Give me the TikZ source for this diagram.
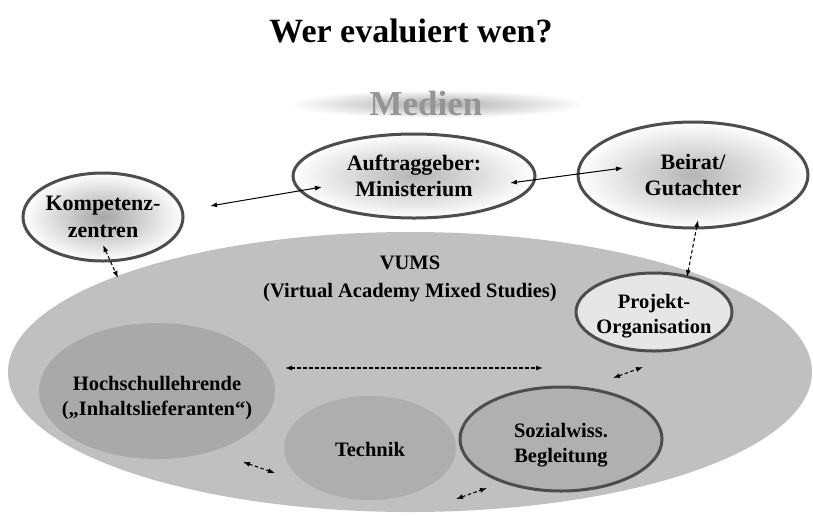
\documentclass[tikz,border=0pt]{standalone}
\usepackage{fontspec}
\setmainfont{Liberation Serif}
\usetikzlibrary{arrows.meta,shapes.geometric}
\definecolor{bigfill}{HTML}{C0C0C0}
\definecolor{hochfill}{HTML}{A9A9A9}
\definecolor{techfill}{HTML}{AEAEAE}
\definecolor{sozfill}{HTML}{B0B0B0}
\definecolor{projfill}{HTML}{E6E6E6}
\definecolor{rimcol}{HTML}{4D4D4D}
\definecolor{medcol}{HTML}{959595}
\newcommand{\lowtxt}[2]{\raisebox{#1}[\height][\depth]{\begin{tabular}{@{}c@{}}#2\end{tabular}}}
\tikzset{
  topnode/.style={ellipse,draw=rimcol,line width=3pt,inner xsep=-40pt,inner ysep=-12pt,
    inner color=gray!58,outer color=white,align=center,
    font=\bfseries\fontsize{22}{26.5}\selectfont},
  innode/.style={ellipse,inner xsep=-40pt,inner ysep=-12pt,
    font=\bfseries\fontsize{20.5}{25}\selectfont},
  solidarrow/.style={{Latex[length=7pt,width=5pt]}-{Latex[length=7pt,width=5pt]},line width=1pt,black},
  dasharrow/.style={{Latex[length=7pt,width=5pt]}-{Latex[length=7pt,width=5pt]},line width=1.1pt,black,dash pattern=on 3.5pt off 2.5pt}
}
\begin{document}
\begin{tikzpicture}[x=1pt,y=-1pt]
\useasboundingbox (0,0) rectangle (813,515);
% title
\node[font=\bfseries\fontsize{34}{40}\selectfont] (title) at (411,31) {Wer evaluiert wen?};
% Medien glow
\shade[inner color=gray!65,outer color=white] (437,104) ellipse [x radius=148,y radius=14];
\node[font=\bfseries\fontsize{35}{40}\selectfont,text=medcol] (medien) at (426,104) {Medien};
% big VUMS ellipse
\node[ellipse,fill=bigfill,minimum width=804pt,minimum height=280pt,inner sep=0pt] (vums) at (410,372) {};
\node[align=center,font=\bfseries\fontsize{20.5}{28}\selectfont] (vumstext) at (410,279) {VUMS\\(Virtual Academy Mixed Studies)};
% top nodes
\node[topnode,inner color=gray!70,minimum width=160pt,minimum height=88pt] (komp) at (103,217) {Kompetenz-\\zentren};
\node[topnode,minimum width=242pt,minimum height=84pt] (auft) at (414,176) {Auftraggeber:\\Ministerium};
\node[topnode,minimum width=230pt,minimum height=106pt] (beirat) at (693,175) {Beirat/\\Gutachter};
% inner nodes
\node[innode,fill=projfill,draw=rimcol,line width=3pt,minimum width=156pt,minimum height=78pt] (proj) at (654,312) {\lowtxt{-4pt}{Projekt-\\Organisation}};
\node[innode,fill=hochfill,minimum width=236pt,minimum height=136pt] (hoch) at (157,391) {\lowtxt{-7pt}{Hochschullehrende\\(„Inhaltslieferanten“)}};
\node[innode,fill=techfill,minimum width=172pt,minimum height=104pt] (tech) at (370,448) {\lowtxt{-3pt}{Technik}};
\node[innode,fill=sozfill,draw=rimcol,line width=3pt,minimum width=202pt,minimum height=104pt] (soz) at (561,439) {\lowtxt{-6pt}{Sozialwiss.\\Begleitung}};
% arrow end points
\coordinate (ka1) at (210,206); \coordinate (ka2) at (322,187);
\coordinate (ab1) at (510,183); \coordinate (ab2) at (623,168);
\coordinate (kv1) at (103,245); \coordinate (kv2) at (118,278);
\coordinate (bp1) at (698,220); \coordinate (bp2) at (687,277);
\coordinate (ps1) at (613,378); \coordinate (ps2) at (643,367);
\coordinate (hs1) at (285,368); \coordinate (hs2) at (543,368);
\coordinate (ht1) at (243,462); \coordinate (ht2) at (275,473);
\coordinate (ts1) at (456,499); \coordinate (ts2) at (487,488);
\draw[solidarrow] (ka1) -- (ka2);
\draw[solidarrow] (ab1) -- (ab2);
\draw[dasharrow] (kv1) -- (kv2);
\draw[dasharrow] (bp1) -- (bp2);
\draw[dasharrow] (ps1) -- (ps2);
\draw[dasharrow] (hs1) -- (hs2);
\draw[dasharrow] (ht1) -- (ht2);
\draw[dasharrow] (ts1) -- (ts2);
\end{tikzpicture}
\end{document}
